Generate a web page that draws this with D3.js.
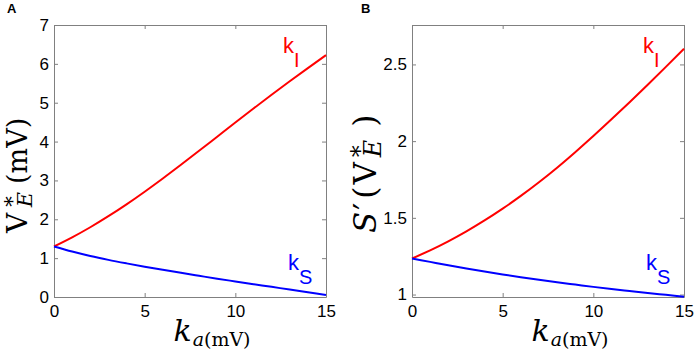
<!DOCTYPE html>
<html>
<head>
<meta charset="utf-8">
<script src="https://cdn.jsdelivr.net/npm/d3@7"></script>
<style>
    body { margin: 0; background: #fff; }
    .axis text { font-family: "Liberation Sans", Arial, sans-serif; font-size: 17px; fill: #000; }
    .math { font-family: "DejaVu Serif", serif; fill: #000; }
    .curve-label { font-family: "Liberation Sans", Arial, sans-serif; font-size: 22px; }
    .panel-label { font-family: "Liberation Sans", Arial, sans-serif; font-weight: bold; font-size: 13px; }
    .curve { fill: none; stroke-width: 2; }
</style>
</head>
<body>
<div id="chart"></div>
<script>
// k_a in mV
var ka = [0, 1, 2, 3, 4, 5, 6, 7, 8, 9, 10, 11, 12, 13, 14, 15]

// panel A: V*_E (mV)
var vLarge = [1.30, 1.535, 1.795, 2.08, 2.385, 2.71, 3.05, 3.402, 3.762, 4.126, 4.49, 4.85, 5.204, 5.551, 5.891, 6.224]
var vSmall = [1.30, 1.17, 1.055, 0.955, 0.865, 0.78, 0.70, 0.622, 0.546, 0.471, 0.401, 0.331, 0.261, 0.191, 0.121, 0.051]

// panel B: S'(V*_E)
var sLarge = [1.235, 1.288, 1.347, 1.412, 1.483, 1.560, 1.643, 1.732, 1.827, 1.928, 2.033, 2.142, 2.254, 2.368, 2.484, 2.602]
var sSmall = [1.235, 1.213, 1.191, 1.170, 1.150, 1.131, 1.113, 1.096, 1.080, 1.065, 1.050, 1.036, 1.023, 1.010, 0.998, 0.986]

var xTicks = [0, 5, 10, 15]
var yTicksA = [0, 1, 2, 3, 4, 5, 6, 7]
var yTicksB = [1, 1.5, 2, 2.5]
var xDomain = [0, 15]
var yDomainA = [0, 7]
var yDomainB = [0.984, 2.757]

// curve annotations [text, subscript, x, y]
var labelsA = [["k", "I", 12.63, 6.27], ["k", "S", 12.9, 0.705]]
var labelsB = [["k", "I", 12.74, 2.574], ["k", "S", 12.9, 1.158]]

var width = 696, height = 350

var svg = d3.select("#chart")
    .append("svg")
        .attr("width", width)
        .attr("height", height)

svg.append("rect")
    .attr("width", width)
    .attr("height", height)
    .attr("fill", "#fff")

function panel(config){
    var w = 272, h = 272

    var g = svg.append("g")
        .attr("transform", "translate(" + config.left + "," + config.top + ")")

    var x = d3.scaleLinear().domain(xDomain).range([0, w])
    var y = d3.scaleLinear().domain(config.yDomain).range([h, 0])

    // box with inward ticks on all four sides
    g.append("g")
        .attr("class", "axis")
        .attr("color", "#808080")
        .attr("transform", "translate(0," + h + ")")
        .call(d3.axisBottom(x).tickValues(xTicks).tickSize(-4).tickSizeOuter(0).tickPadding(8))

    g.append("g")
        .attr("class", "axis")
        .attr("color", "#808080")
        .call(d3.axisTop(x).tickValues(xTicks).tickSize(-4).tickSizeOuter(0).tickFormat(""))

    g.append("g")
        .attr("class", "axis")
        .attr("color", "#808080")
        .call(d3.axisLeft(y).tickValues(config.yTicks).tickSize(-4).tickSizeOuter(0).tickPadding(5)
            .tickFormat(d => String(d)))

    g.append("g")
        .attr("class", "axis")
        .attr("color", "#808080")
        .attr("transform", "translate(" + w + ",0)")
        .call(d3.axisRight(y).tickValues(config.yTicks).tickSize(-4).tickSizeOuter(0).tickFormat(""))

    var line = d3.line()
        .x((d, i) => x(ka[i]))
        .y(d => y(d))
        .curve(d3.curveMonotoneX)

    g.append("path")
        .datum(config.large)
        .attr("class", "curve")
        .attr("stroke", "#ff0000")
        .attr("d", line)

    g.append("path")
        .datum(config.small)
        .attr("class", "curve")
        .attr("stroke", "#0000ff")
        .attr("d", line)

    config.labels.forEach(function(d, i){
        var t = g.append("text")
            .attr("class", "curve-label")
            .attr("x", x(d[2]))
            .attr("y", y(d[3]))
            .attr("fill", i == 0 ? "#ff0000" : "#0000ff")
        t.append("tspan").text(d[0])
        t.append("tspan").attr("dy", 14).attr("font-size", "20px").text(d[1])
    })

    // x label: k_a(mV)
    var xl = g.append("text")
        .attr("class", "math")
        .attr("x", w/2 + 22)
        .attr("y", h + 44)
        .attr("text-anchor", "middle")
    xl.append("tspan").attr("font-size", "30px").attr("font-style", "italic").text("k")
    xl.append("tspan").attr("font-size", "19px").attr("font-style", "italic").attr("dy", 5).attr("dx", 1).text("a")
    xl.append("tspan").attr("font-size", "19px").text("(mV)")

    // y label, rotated, starting at the bottom
    var yl = g.append("text")
        .attr("class", "math")
        .attr("transform", "translate(" + (config.yLabelX - config.left) + "," + (h - 64) + ") rotate(-90)")
    config.yLabel(yl)

    svg.append("text")
        .attr("class", "panel-label")
        .attr("x", config.tagX)
        .attr("y", 12.5)
        .text(config.tag)
}

panel({
    left: 54, top: 25,
    yDomain: yDomainA, yTicks: yTicksA,
    large: vLarge, small: vSmall, labels: labelsA,
    tag: "A", tagX: 7, yLabelX: 27,
    yLabel: function(t){
        t.append("tspan").attr("font-size", "28px").text("V")
        t.append("tspan").attr("font-size", "21px").attr("dx", 6).attr("dy", -8).text("*")
        t.append("tspan").attr("font-size", "21px").attr("font-style", "italic").attr("dx", -11).attr("dy", 13).text("E")
        t.append("tspan").attr("font-size", "27px").attr("dx", 8).attr("dy", -5).text("(mV)")
    }
})

panel({
    left: 412, top: 25,
    yDomain: yDomainB, yTicks: yTicksB,
    large: sLarge, small: sSmall, labels: labelsB,
    tag: "B", tagX: 361, yLabelX: 376,
    yLabel: function(t){
        t.append("tspan").attr("font-size", "31px").attr("font-style", "italic").text("S")
        t.append("tspan").attr("font-size", "31px").attr("dx", 2).text("′")
        t.append("tspan").attr("font-size", "31px").attr("dx", 4).text("(")
        t.append("tspan").attr("font-size", "31px").attr("dx", 2).text("V")
        t.append("tspan").attr("font-size", "24px").attr("dx", 5).attr("dy", -8).text("*")
        t.append("tspan").attr("font-size", "24px").attr("font-style", "italic").attr("dx", -12).attr("dy", 13).text("E")
        t.append("tspan").attr("font-size", "31px").attr("dx", 13).attr("dy", -5).text(")")
    }
})
</script>
</body>
</html>
